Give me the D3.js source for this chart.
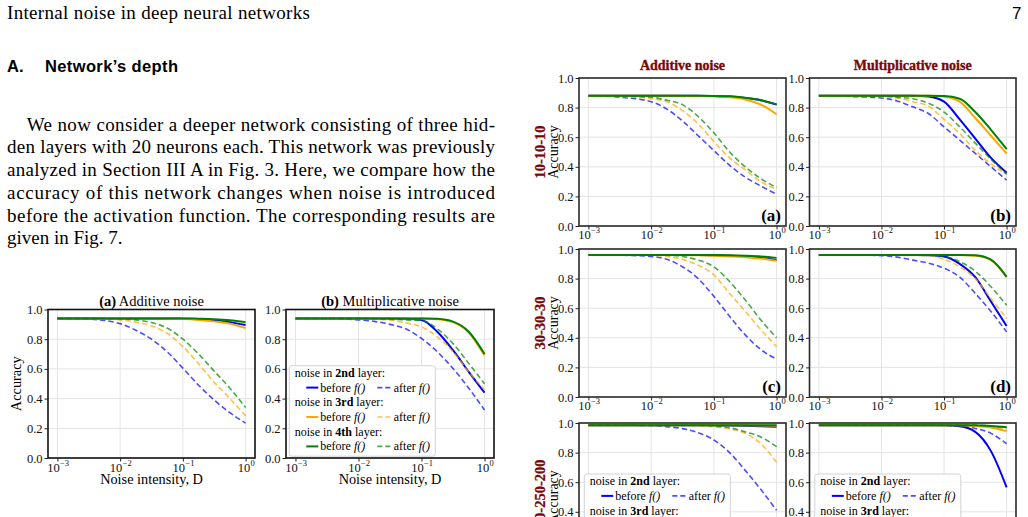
<!DOCTYPE html>
<html><head><meta charset="utf-8">
<script src="https://cdn.jsdelivr.net/npm/d3@7"></script>
<style>body{margin:0;background:#fff;} svg{display:block;}</style>
</head><body><svg id="c" width="1028" height="517"></svg>
<script>
// ---------- data ----------
const noiseD = [0.001, 0.00316, 0.01, 0.0178, 0.0316, 0.0562, 0.1, 0.178, 0.316, 0.562, 1];
const xTickVals = [0.001, 0.01, 0.1, 1];
const xTickExps = [-3, -2, -1, 0];
const yTicks = [0, 0.2, 0.4, 0.6, 0.8, 1.0];
const layerNames = ["2nd", "3rd", "4th"];
// series order in each panel: 2nd before, 2nd after, 3rd before, 3rd after, 4th before, 4th after
const fig7Add = [
  [0.94,0.94,0.94,0.94,0.94,0.94,0.938,0.935,0.928,0.915,0.895],
  [0.94,0.935,0.905,0.86,0.80,0.715,0.605,0.49,0.39,0.305,0.235],
  [0.94,0.94,0.94,0.94,0.94,0.938,0.936,0.93,0.92,0.905,0.875],
  [0.94,0.938,0.93,0.915,0.89,0.84,0.75,0.635,0.51,0.40,0.285],
  [0.94,0.94,0.94,0.94,0.94,0.94,0.94,0.938,0.935,0.928,0.915],
  [0.94,0.94,0.937,0.93,0.912,0.875,0.80,0.70,0.585,0.47,0.34]
];
const fig7Mul = [
  [0.94,0.94,0.94,0.94,0.94,0.938,0.93,0.85,0.726,0.58,0.44],
  [0.94,0.94,0.93,0.92,0.90,0.87,0.805,0.715,0.603,0.47,0.323],
  [0.94,0.94,0.94,0.94,0.94,0.94,0.94,0.935,0.915,0.845,0.69],
  [0.94,0.94,0.938,0.935,0.928,0.91,0.883,0.816,0.715,0.58,0.46],
  [0.94,0.94,0.94,0.94,0.94,0.94,0.94,0.937,0.918,0.85,0.70],
  [0.94,0.94,0.94,0.938,0.935,0.93,0.925,0.87,0.77,0.637,0.50]
];
const net10Add = [
  [0.88,0.88,0.88,0.88,0.88,0.88,0.878,0.875,0.865,0.85,0.82],
  [0.88,0.87,0.84,0.79,0.71,0.61,0.51,0.41,0.33,0.27,0.215],
  [0.88,0.88,0.88,0.88,0.879,0.878,0.876,0.87,0.855,0.82,0.755],
  [0.88,0.875,0.86,0.84,0.78,0.69,0.57,0.46,0.38,0.30,0.245],
  [0.88,0.88,0.88,0.88,0.88,0.88,0.879,0.876,0.866,0.85,0.822],
  [0.88,0.878,0.87,0.85,0.82,0.74,0.63,0.50,0.40,0.32,0.26]
];
const net10Mul = [
  [0.88,0.88,0.88,0.88,0.88,0.875,0.84,0.72,0.59,0.46,0.36],
  [0.88,0.875,0.865,0.845,0.805,0.76,0.67,0.58,0.49,0.40,0.31],
  [0.88,0.88,0.88,0.88,0.88,0.88,0.875,0.84,0.73,0.61,0.49],
  [0.88,0.88,0.875,0.865,0.84,0.81,0.72,0.625,0.51,0.42,0.35],
  [0.88,0.88,0.88,0.88,0.88,0.88,0.878,0.86,0.77,0.65,0.52],
  [0.88,0.88,0.878,0.87,0.86,0.83,0.77,0.67,0.56,0.45,0.35]
];
const net30Add = [
  [0.96,0.96,0.96,0.96,0.96,0.96,0.958,0.955,0.95,0.94,0.925],
  [0.96,0.958,0.95,0.93,0.88,0.80,0.68,0.545,0.42,0.32,0.256],
  [0.96,0.96,0.96,0.96,0.96,0.958,0.955,0.95,0.945,0.935,0.92],
  [0.96,0.96,0.958,0.95,0.93,0.89,0.825,0.70,0.58,0.455,0.34],
  [0.96,0.96,0.96,0.96,0.96,0.96,0.96,0.958,0.955,0.95,0.94],
  [0.96,0.96,0.96,0.958,0.95,0.925,0.88,0.78,0.656,0.52,0.40]
];
const net30Mul = [
  [0.96,0.96,0.96,0.96,0.96,0.958,0.95,0.90,0.81,0.645,0.48],
  [0.96,0.96,0.955,0.945,0.925,0.905,0.87,0.81,0.70,0.578,0.44],
  [0.96,0.96,0.96,0.96,0.96,0.96,0.96,0.96,0.955,0.925,0.81],
  [0.96,0.96,0.96,0.96,0.958,0.955,0.93,0.88,0.80,0.665,0.53],
  [0.96,0.96,0.96,0.96,0.96,0.96,0.96,0.96,0.957,0.928,0.812],
  [0.96,0.96,0.96,0.96,0.96,0.958,0.95,0.915,0.85,0.745,0.62]
];
const net200Add = [
  [0.985,0.985,0.985,0.985,0.985,0.985,0.984,0.983,0.981,0.978,0.975],
  [0.985,0.985,0.983,0.975,0.962,0.935,0.885,0.80,0.68,0.55,0.41],
  [0.985,0.985,0.985,0.985,0.985,0.985,0.985,0.984,0.984,0.983,0.982],
  [0.985,0.985,0.985,0.985,0.985,0.983,0.975,0.96,0.93,0.86,0.735],
  [0.985,0.985,0.985,0.985,0.985,0.985,0.985,0.985,0.985,0.985,0.985],
  [0.985,0.985,0.985,0.985,0.985,0.985,0.98,0.968,0.94,0.905,0.84]
];
const net200Mul = [
  [0.985,0.985,0.985,0.985,0.985,0.985,0.985,0.978,0.94,0.81,0.565],
  [0.985,0.985,0.985,0.985,0.985,0.985,0.984,0.978,0.963,0.93,0.86],
  [0.985,0.985,0.985,0.985,0.985,0.985,0.985,0.985,0.98,0.97,0.945],
  [0.985,0.985,0.985,0.985,0.985,0.985,0.985,0.985,0.982,0.975,0.955],
  [0.985,0.985,0.985,0.985,0.985,0.985,0.985,0.985,0.985,0.98,0.972],
  [0.985,0.985,0.985,0.985,0.985,0.985,0.985,0.985,0.985,0.98,0.968]
];
const paragraphLines = [
  "We now consider a deeper network consisting of three hid-",
  "den layers with 20 neurons each. This network was previously",
  "analyzed in Section III A in Fig. 3. Here, we compare how the",
  "accuracy of this network changes when noise is introduced",
  "before the activation function. The corresponding results are",
  "given in Fig. 7."
];

// ---------- styles ----------
const serif = "'Liberation Serif','Times New Roman',serif";
const sans = "'Liberation Sans',Arial,sans-serif";
const seriesColor = ["#0000ff","#0000ff","#ffa500","#ffa500","#008000","#008000"];
const seriesDashed = [false,true,false,true,false,true];
const darkRed = "#780808";

const svg = d3.select("#c");

// ---------- page text ----------
svg.append("text").attr("x",7).attr("y",19).attr("font-family",serif).attr("font-size",19)
  .attr("textLength",303).attr("lengthAdjust","spacing").text("Internal noise in deep neural networks");
svg.append("text").attr("x",1012).attr("y",19).attr("font-family",sans).attr("font-size",17).text("7");
svg.append("text").attr("x",7).attr("y",71.5).attr("font-family",sans).attr("font-weight","bold").attr("font-size",16.5).text("A.");
svg.append("text").attr("x",45).attr("y",71.5).attr("font-family",sans).attr("font-weight","bold").attr("font-size",16.5)
  .attr("textLength",133).attr("lengthAdjust","spacing").text("Network\u2019s depth");
const paraBase = [130.7,153.4,176.1,198.9,221.6,244.4];
paragraphLines.forEach((t,i)=>{
  const tx = svg.append("text").attr("x", i===0?26.7:7).attr("y",paraBase[i])
    .attr("font-family",serif).attr("font-size",19).text(t);
  if(i<5){ tx.attr("textLength", i===0?468.3:488).attr("lengthAdjust","spacing"); }
});

// ---------- panel drawing ----------
function drawPanel(c){
  const x = d3.scaleLog().domain([Math.pow(10,-3.15), Math.pow(10,0.15)]).range([c.left,c.right]);
  const y = d3.scaleLinear().domain([0,1]).range([c.bottom,c.top]);
  const g = svg.append("g");
  // grid
  g.selectAll("line.gx").data(xTickVals).join("line").attr("class","gx")
    .attr("x1",d=>x(d)).attr("x2",d=>x(d)).attr("y1",c.top).attr("y2",c.bottom)
    .attr("stroke","#e4e4e4").attr("stroke-width",1);
  g.selectAll("line.gy").data(yTicks).join("line").attr("class","gy")
    .attr("x1",c.left).attr("x2",c.right).attr("y1",d=>y(d)).attr("y2",d=>y(d))
    .attr("stroke","#e4e4e4").attr("stroke-width",1);
  // curves
  const line = d3.line().x((d,i)=>x(noiseD[i])).y(d=>y(d)).curve(d3.curveMonotoneX);
  c.data.forEach((s,i)=>{
    g.append("path").attr("d",line(s)).attr("fill","none")
      .attr("stroke",seriesColor[i])
      .attr("stroke-width",seriesDashed[i]?1.6:2)
      .attr("stroke-opacity",seriesDashed[i]?0.7:1)
      .attr("stroke-dasharray",seriesDashed[i]?"5.5,3":null);
  });
  // frame
  g.append("rect").attr("x",c.left).attr("y",c.top).attr("width",c.right-c.left).attr("height",c.bottom-c.top)
    .attr("fill","none").attr("stroke",c.frameColor||"#111").attr("stroke-width",1.6);
  // y axis
  const ya = g.append("g").attr("transform",`translate(${c.left},0)`)
    .call(d3.axisLeft(y).tickValues(yTicks).tickFormat(d3.format(".1f")).tickSize(3.5).tickPadding(2));
  ya.select(".domain").remove();
  ya.selectAll(".tick line").attr("stroke","#222");
  ya.selectAll(".tick text").attr("font-family",serif).attr("font-size",12.5).attr("fill","#111");
  // x axis
  const xa = g.append("g").attr("transform",`translate(0,${c.bottom})`)
    .call(d3.axisBottom(x).tickValues(xTickVals).tickFormat("").tickSize(3.5));
  xa.select(".domain").remove();
  xa.selectAll(".tick line").attr("stroke","#222");
  xa.selectAll(".tick text").remove();
  xa.selectAll(".tick").each(function(d,i){
    const tk = d3.select(this);
    const base = tk.append("text").attr("text-anchor","start").attr("y",c.xLabOff)
      .attr("font-family",serif).attr("font-size",12.5).attr("fill","#111").text("10");
    const sup = tk.append("text").attr("text-anchor","start").attr("y",c.xLabOff-5.5)
      .attr("font-family",serif).attr("font-size",8.5).attr("fill","#111")
      .text(xTickExps[i]<0?"\u2212"+(-xTickExps[i]):String(xTickExps[i]));
    const w1 = base.node().getComputedTextLength(), w2 = sup.node().getComputedTextLength();
    const x0 = -(w1+w2)/2;
    base.attr("x",x0); sup.attr("x",x0+w1+0.3);
  });
  if(c.letter){
    g.append("text").attr("x",c.right-5).attr("y",c.bottom-5.5).attr("text-anchor","end")
      .attr("font-family",serif).attr("font-weight","bold").attr("font-size",17).text(c.letter);
  }
  if(c.legend){ drawLegend(c.legend[0], c.legend[1]); }
  return {x,y};
}

function drawLegend(bx, by){
  const g = svg.append("g");
  g.append("rect").attr("x",bx).attr("y",by).attr("width",146).attr("height",90.5).attr("rx",2.5)
    .attr("fill","#fff").attr("fill-opacity",0.85).attr("stroke","#d2d2d2").attr("stroke-width",1);
  layerNames.forEach((ln,i)=>{
    const hb = by + 11.2 + i*29.4;
    const h = g.append("text").attr("x",bx+5.4).attr("y",hb).attr("font-family",serif).attr("font-size",12);
    h.append("tspan").text("noise in ");
    h.append("tspan").attr("font-weight","bold").text(ln);
    h.append("tspan").text(" layer:");
    const eb = hb + 14.7;
    const col = seriesColor[i*2];
    g.append("line").attr("x1",bx+17).attr("x2",bx+29).attr("y1",eb-4).attr("y2",eb-4)
      .attr("stroke",col).attr("stroke-width",2);
    const t1 = g.append("text").attr("x",bx+31).attr("y",eb).attr("font-family",serif).attr("font-size",12);
    t1.append("tspan").text("before ");
    t1.append("tspan").attr("font-style","italic").text("f()");
    g.append("line").attr("x1",bx+88).attr("x2",bx+101.5).attr("y1",eb-4).attr("y2",eb-4)
      .attr("stroke",col).attr("stroke-width",1.6).attr("stroke-opacity",0.7).attr("stroke-dasharray","5,3");
    const t2 = g.append("text").attr("x",bx+104.5).attr("y",eb).attr("font-family",serif).attr("font-size",12);
    t2.append("tspan").text("after ");
    t2.append("tspan").attr("font-style","italic").text("f()");
  });
}

// ---------- left figure (Fig. 7) ----------
const LT = 309.5, LB = 458;
drawPanel({left:48,right:255,top:LT,bottom:LB,data:fig7Add,xLabOff:13.7});
drawPanel({left:286,right:494,top:LT,bottom:LB,data:fig7Mul,xLabOff:13.7,legend:[289.3,365.7]});
function titleAB(cx, letter, rest){
  const t = svg.append("text").attr("x",cx).attr("y",305.5).attr("text-anchor","middle")
    .attr("font-family",serif).attr("font-size",14.5);
  t.append("tspan").attr("font-weight","bold").text(letter);
  t.append("tspan").text(rest);
}
titleAB(151.5,"(a)"," Additive noise");
titleAB(390,"(b)"," Multiplicative noise");
[151.5, 390].forEach(cx=>{
  svg.append("text").attr("x",cx).attr("y",484).attr("text-anchor","middle")
    .attr("font-family",serif).attr("font-size",14.3).text("Noise intensity, D");
});
svg.append("text").attr("transform",`translate(16,${(LT+LB)/2}) rotate(-90)`).attr("text-anchor","middle")
  .attr("dominant-baseline","central").attr("font-family",serif).attr("font-size",14.3).text("Accuracy");

// ---------- right figure ----------
const colX = [[579,786],[809.5,1016]];
const rowY = [[78,226],[249,397],[423,571]];
const rightData = [[net10Add,net10Mul],[net30Add,net30Mul],[net200Add,net200Mul]];
const rowNames = ["10-10-10","30-30-30","200-250-200"];
const letters = [["(a)","(b)"],["(c)","(d)"],[null,null]];
rowY.forEach((ry,r)=>{
  colX.forEach((cx,k)=>{
    drawPanel({left:cx[0],right:cx[1],top:ry[0],bottom:ry[1],data:rightData[r][k],xLabOff:12.5,
      frameColor:"#2a2a2a",letter:letters[r][k],legend:r===2?[cx[0]+5.3,474]:null});
  });
  const cy = (ry[0]+ry[1])/2;
  svg.append("text").attr("transform",`translate(540,${cy}) rotate(-90)`).attr("text-anchor","middle")
    .attr("dominant-baseline","central").attr("font-family",serif).attr("font-weight","bold")
    .attr("font-size",14.5).attr("fill",darkRed).attr("stroke",darkRed).attr("stroke-width",0.3).text(rowNames[r]);
  svg.append("text").attr("transform",`translate(553.5,${cy}) rotate(-90)`).attr("text-anchor","middle")
    .attr("dominant-baseline","central").attr("font-family",serif).attr("font-size",14).text("Accuracy");
});
[["Additive noise",682.5],["Multiplicative noise",912.7]].forEach(([t,cx])=>{
  svg.append("text").attr("x",cx).attr("y",70).attr("text-anchor","middle").attr("font-family",serif)
    .attr("font-weight","bold").attr("font-size",14).attr("fill",darkRed).attr("stroke",darkRed)
    .attr("stroke-width",0.35).text(t);
});
</script></body></html>
